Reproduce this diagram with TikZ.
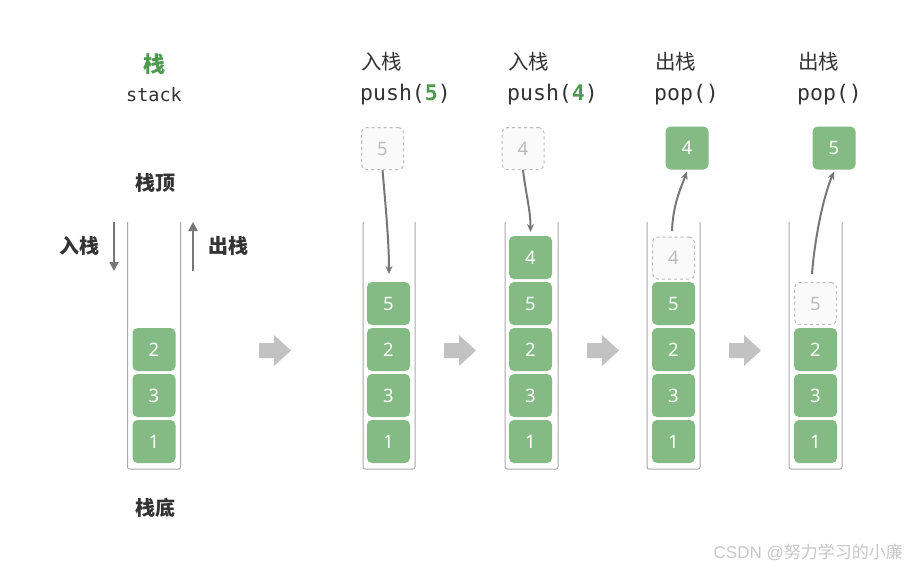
\documentclass[tikz,border=0pt]{standalone}
\usepackage{fontspec}
\setmainfont{Noto Sans}
\setmonofont{DejaVu Sans Mono}
\newfontfamily\cjk{Noto Sans CJK SC}
\newfontfamily\wmfont{Liberation Sans}
\usetikzlibrary{arrows.meta}
\definecolor{blkgreen}{HTML}{84BA84}
\definecolor{titlegreen}{HTML}{4E9A4E}
\definecolor{txt}{HTML}{333333}
\definecolor{tube}{HTML}{A8A8A8}
\definecolor{arr}{HTML}{777777}
\definecolor{ghost}{HTML}{BBBBBB}
\definecolor{bigarr}{HTML}{C2C2C2}
\tikzset{
  blk/.style={rectangle, rounded corners=5pt, fill=blkgreen, draw=none, minimum width=43pt, minimum height=43pt, inner sep=0pt, text=white, font=\fontsize{18.5}{18.5}\selectfont},
  ghostblk/.style={rectangle, rounded corners=5pt, fill=black!2, draw=ghost, dashed, line width=1pt, minimum width=42pt, minimum height=42pt, inner sep=0pt, text=ghost, font=\fontsize{18.5}{18.5}\selectfont},
  tubeline/.style={draw=tube, line width=1pt, rounded corners=2pt},
  moveline/.style={draw=arr, line width=2pt, -{Stealth[length=8pt,width=7pt]}},
  sidearrow/.style={draw=arr, line width=2.6pt, -{Triangle[length=9pt,width=9pt]}},
  cjklabel/.style={text=txt, font=\cjk\bfseries\fontsize{20}{20}\selectfont, inner sep=0pt},
  headcjk/.style={text=txt, font=\cjk\fontsize{20.5}{20.5}\selectfont, inner sep=0pt, anchor=west},
  headcode/.style={text=txt, font=\ttfamily\fontsize{21.5}{21.5}\selectfont, inner sep=0pt, anchor=west},
  bigarrow/.style={fill=bigarr, draw=none},
}
\begin{document}
\begin{tikzpicture}[x=1pt,y=-1pt]
\useasboundingbox (0,0) rectangle (907,570);
\fill[white] (0,0) rectangle (907,570);

% ---------- Stack 1 ----------
\node[text=titlegreen, font=\cjk\bfseries\fontsize{22}{22}\selectfont, inner sep=0pt] (t1) at (154,64) {栈};
\node[text=txt, font=\ttfamily\fontsize{18.5}{18.5}\selectfont, inner sep=0pt] (t2) at (154,95) {stack};
\node[cjklabel] (top) at (155,183) {栈顶};
\node[cjklabel] (bottom) at (155,508) {栈底};
\node[cjklabel] (inlab) at (79,246) {入栈};
\node[cjklabel] (outlab) at (228,246) {出栈};
\coordinate (ina) at (114,222);
\coordinate (inb) at (114,271);
\coordinate (outa) at (193,271);
\coordinate (outb) at (193,222);
\draw[sidearrow] (ina) -- (inb);
\draw[sidearrow] (outa) -- (outb);
\draw[tubeline] (127.5,222) -- (127.5,469) -- (180.5,469) -- (180.5,222);
\node[blk] (a1) at (154,441.5) {1};
\node[blk] (a3) at (154,395.5) {3};
\node[blk] (a2) at (154,349.5) {2};

% ---------- Stack 2: push(5) ----------
\node[headcjk] (h2a) at (361,62) {入栈};
\node[headcode] (h2b) at (360,95) {push(\textcolor{titlegreen}{\bfseries 5})};
\node[ghostblk] (g5) at (382.5,148.5) {5};
\draw[tubeline] (363,222) -- (363,469) -- (415,469) -- (415,222);
\node[blk] (b1) at (388.5,441.5) {1};
\node[blk] (b3) at (388.5,395.5) {3};
\node[blk] (b2) at (388.5,349.5) {2};
\node[blk] (b5) at (388.5,303.5) {5};
\coordinate (b5in) at (389,274);
\draw[moveline] (g5.south) .. controls (385,200) and (389,240) .. (b5in);

% ---------- Stack 3: push(4) ----------
\node[headcjk] (h3a) at (508,62) {入栈};
\node[headcode] (h3b) at (507,95) {push(\textcolor{titlegreen}{\bfseries 4})};
\node[ghostblk] (g4) at (523,148.5) {4};
\draw[tubeline] (505,222) -- (505,469) -- (558,469) -- (558,222);
\node[blk] (c1) at (530.5,441.5) {1};
\node[blk] (c3) at (530.5,395.5) {3};
\node[blk] (c2) at (530.5,349.5) {2};
\node[blk] (c5) at (530.5,303.5) {5};
\node[blk] (c4) at (530.5,257.5) {4};
\coordinate (c4in) at (530.5,232);
\draw[moveline] (g4.south) .. controls (526,195) and (530.5,210) .. (c4in);

% ---------- Stack 4: pop() ----------
\node[headcjk] (h4a) at (655,62) {出栈};
\node[headcode] (h4b) at (654,95) {pop()};
\node[blk] (p4) at (687,148) {4};
\draw[tubeline] (647,222) -- (647,469) -- (700,469) -- (700,222);
\node[blk] (d1) at (673.5,441.5) {1};
\node[blk] (d3) at (673.5,395.5) {3};
\node[blk] (d2) at (673.5,349.5) {2};
\node[blk] (d5) at (673.5,303.5) {5};
\node[ghostblk] (d4) at (673.5,258) {4};
\coordinate (d4out) at (672,231);
\draw[moveline] (d4out) .. controls (673,205) and (680,190) .. ([yshift=-2pt]p4.south);

% ---------- Stack 5: pop() ----------
\node[headcjk] (h5a) at (798,62) {出栈};
\node[headcode] (h5b) at (797,95) {pop()};
\node[blk] (p5) at (834,148) {5};
\draw[tubeline] (789,222) -- (789,469) -- (842,469) -- (842,222);
\node[blk] (e1) at (815.5,441.5) {1};
\node[blk] (e3) at (815.5,395.5) {3};
\node[blk] (e2) at (815.5,349.5) {2};
\node[ghostblk] (e5) at (815.5,303.5) {5};
\coordinate (e5out) at (812,274);
\draw[moveline] (e5out) .. controls (815,235) and (824,195) .. ([yshift=-2pt]p5.south);

% ---------- big gray arrows ----------
\foreach \x in {259,444,587,729}{
  \fill[bigarrow] (\x,343) -- (\x+15,343) -- (\x+15,335) -- (\x+32,350.5) -- (\x+15,366) -- (\x+15,358) -- (\x,358) -- cycle;
}

% ---------- watermark ----------
\node[text=black!22, font=\cjk\fontsize{17}{17}\selectfont, inner sep=0pt, anchor=east] (wm) at (903,552) {{\wmfont CSDN @}努力学习的小廉};
\end{tikzpicture}
\end{document}
